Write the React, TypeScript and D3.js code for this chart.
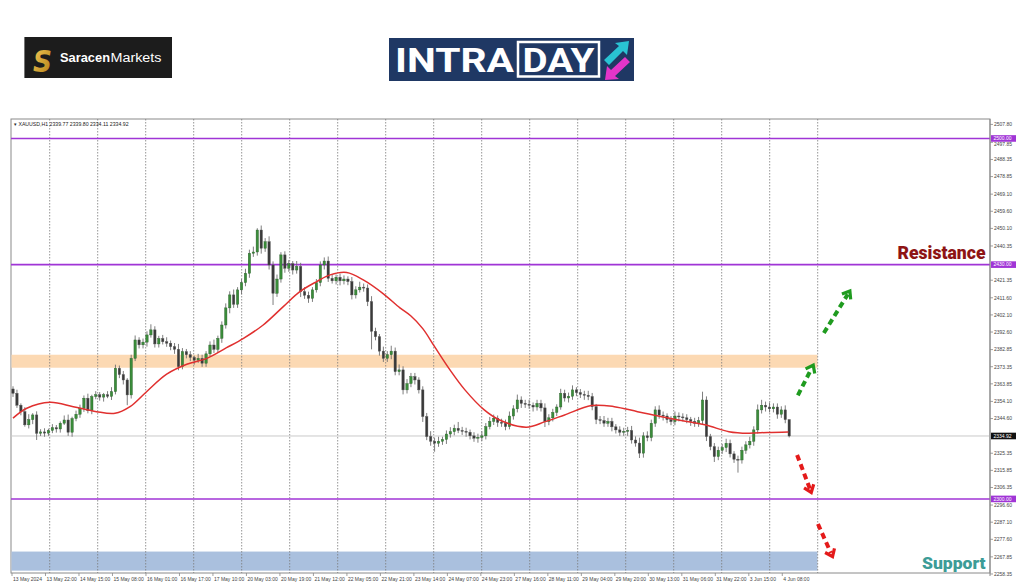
import React from 'react';
import * as d3 from 'd3';

// ---------- DATA (2-hour candles) ----------
const firstOpen = 2361.0;
const closes = [
  2358.6, 2352.0, 2348.4, 2341.1, 2344.0, 2346.6, 2336.4, 2337.2, 2336.5, 2338.0,
  2339.5, 2338.8, 2342.0, 2343.8, 2337.0, 2344.6, 2347.0, 2350.3, 2355.9, 2349.0,
  2356.8, 2357.8, 2356.5, 2357.8, 2356.9, 2359.5, 2372.5, 2369.0, 2366.0, 2357.7,
  2378.0, 2388.2, 2385.5, 2387.0, 2391.0, 2393.8, 2386.0, 2389.0, 2387.2, 2386.4,
  2384.5, 2383.0, 2373.4, 2381.7, 2380.0, 2378.5, 2377.0, 2378.0, 2375.3, 2380.5,
  2385.4, 2383.0, 2389.1, 2396.5, 2406.0, 2413.2, 2408.0, 2416.0, 2420.0, 2425.2,
  2436.3, 2437.0, 2449.2, 2439.1, 2442.7, 2429.8, 2414.1, 2422.0, 2435.4, 2428.0,
  2430.5, 2427.0, 2429.0, 2415.0, 2413.0, 2411.3, 2416.0, 2420.0, 2429.8, 2432.0,
  2422.4, 2421.0, 2423.0, 2421.0, 2422.0, 2420.6, 2413.2, 2416.0, 2417.5, 2417.0,
  2409.5, 2393.0, 2390.0, 2382.0, 2378.0, 2380.0, 2382.0, 2370.6, 2371.6, 2360.5,
  2364.0, 2367.9, 2366.0, 2360.5, 2345.7, 2334.6, 2332.0, 2330.9, 2332.0, 2333.0,
  2336.0, 2337.3, 2339.2, 2338.0, 2337.5, 2337.0, 2335.0, 2333.7, 2334.2, 2335.0,
  2340.1, 2343.0, 2344.8, 2342.5, 2342.0, 2340.1, 2346.0, 2350.0, 2354.9, 2353.0,
  2352.5, 2352.0, 2351.0, 2353.0, 2350.5, 2342.9, 2345.0, 2348.0, 2351.0, 2358.6,
  2356.0, 2357.0, 2360.5, 2359.0, 2358.0, 2357.5, 2356.8, 2351.2, 2344.0, 2343.5,
  2342.0, 2343.0, 2340.0, 2338.3, 2337.0, 2337.5, 2338.0, 2332.7, 2331.0, 2325.4,
  2335.0, 2334.0, 2342.0, 2349.4, 2346.5, 2346.0, 2344.0, 2342.9, 2346.0, 2345.5,
  2345.0, 2344.0, 2343.0, 2342.0, 2343.5, 2354.9, 2334.6, 2329.0, 2323.5, 2327.0,
  2328.5, 2330.9, 2325.0, 2322.0, 2321.6, 2327.0, 2330.0, 2332.0, 2338.3, 2349.4,
  2352.0, 2351.0, 2350.0, 2351.0, 2347.0, 2349.4, 2344.0, 2334.92,
];
const wickHi = [
  1.5, 2, 1, 2.5, 3, 1, 2, 1.5, 2, 1,
  2, 1.5, 1, 2.5, 3, 1, 2, 2, 1.5, 2.5,
  1, 2, 1.5, 1, 2, 2.5, 2, 1.5, 2, 1,
  2, 2.5, 1.5, 2, 2, 3.1, 2, 1.5, 2, 2.5,
  1.5, 2, 3, 2, 1.5, 2, 1, 2.5, 2, 1.5,
  2, 3, 1.5, 2, 2.5, 2, 3, 1.5, 2, 2.5,
  2, 3, 1, 2.5, 2, 3, 2, 2.5, 1.5, 2,
  2, 1.5, 3, 2, 2.5, 2, 1.5, 2, 2, 2,
  2.5, 2, 1.5, 2, 2, 1.5, 2.5, 2, 3, 2,
  2, 3, 2, 1.5, 2.5, 2, 3, 2, 3, 2,
  2.5, 2, 2, 1.5, 2, 2, 3, 2, 2.5, 1.5,
  2, 2.5, 2, 3.5, 2, 2, 1.5, 2, 2, 2.5,
  2, 2.5, 2, 1.5, 2, 2, 2.5, 2, 3, 2,
  2, 2.5, 1.5, 2, 2, 2.5, 2, 2, 1.5, 2.5,
  2, 2, 2.5, 1.5, 2, 2, 2.5, 2, 1.5, 2,
  2.5, 2, 2, 1.5, 2, 2, 2, 2.5, 2, 3,
  2, 2.5, 2, 2, 2.5, 2, 1.5, 2, 2.5, 2,
  2, 2, 1.5, 2, 2, 4.6, 2, 1.5, 2, 2,
  2, 2.5, 2, 1.5, 2, 2, 2, 2.5, 2, 3,
  3, 2, 2.5, 2, 2, 2, 2.5, 0.1,
];
const wickLo = [
  2, 1.5, 2, 1, 2, 2.5, 3.7, 1.5, 2, 1.5,
  1.5, 2, 2, 1, 2, 2.5, 1.5, 2, 2, 1.5,
  2, 1.5, 2, 2.5, 1, 2, 1.5, 2, 2.5, 5.7,
  2, 1.5, 2, 2, 2.5, 1.5, 2, 2, 1.5, 2,
  2, 2.5, 2, 1.5, 2, 2, 2.5, 1.5, 2, 2,
  1.5, 2, 2, 2.5, 2, 3, 2, 2, 2.5, 2,
  2.5, 2, 2, 3, 2, 2.5, 6.5, 2, 2, 2.5,
  2, 2.5, 2, 3, 2, 2.5, 2, 1.5, 2, 2.5,
  2, 1.5, 2, 2.5, 2, 2, 2.5, 2, 1.5, 2,
  2.5, 10, 2, 2.5, 2, 2, 2.5, 2, 2, 2.5,
  2, 2, 2.5, 2, 3, 2, 2.5, 4.7, 2, 2,
  2.5, 2, 2, 1.5, 2, 2.5, 2, 2, 2.5, 2,
  2, 1.5, 2, 2.5, 2, 2, 1.5, 2, 2, 2.5,
  2, 2, 2.5, 2, 2, 3, 2, 2, 2, 1.5,
  2, 2.5, 2, 2, 2, 2.5, 2, 2, 2.5, 2,
  2, 2, 2.5, 2, 2, 2, 2.5, 2, 2, 2.7,
  2.5, 2, 2, 2, 2, 2.5, 2, 2, 2, 2.5,
  2, 2, 2.5, 2, 2, 2, 2.5, 2, 3, 2,
  2, 2.5, 2, 2, 7, 2, 2, 2, 2.5, 2,
  2, 2.5, 2, 2, 2.5, 2, 2, 0.8,
];

// moving average (red line) read at bar positions
const maIdx = [0, 3.5, 9.4, 15.3, 21.2, 25.9, 29.7, 33.9, 39, 44.1, 49.2, 54.2, 58.5, 63.5, 68.6, 72.8, 77.1, 80.5, 84.7, 88.9, 94, 98.2, 101, 104, 107, 110.9, 114.7, 119.6, 123.5, 130.3, 135.1, 140, 146.8, 152.6, 158.5, 164.3, 171.1, 175.9, 181.7, 186.6, 191.5, 196.8];
const maVal = [2344.8, 2350.3, 2353.6, 2351.2, 2348.4, 2347.5, 2351.2, 2359.5, 2369.2, 2374.7, 2378.0, 2383.9, 2389.1, 2396.5, 2406.7, 2415.0, 2420.6, 2424.3, 2425.6, 2421.5, 2413.8, 2406.0, 2401.5, 2394.5, 2384.5, 2371.6, 2360.5, 2349.4, 2343.8, 2339.8, 2342.9, 2346.6, 2351.8, 2351.2, 2348.4, 2345.7, 2342.9, 2341.0, 2337.3, 2336.4, 2336.9, 2337.2];

const dateLabels = [
  '13 May 2024', '13 May 22:00', '14 May 15:00', '15 May 08:00', '16 May 01:00', '16 May 17:00',
  '17 May 10:00', '20 May 03:00', '20 May 19:00', '21 May 12:00', '22 May 05:00', '22 May 21:00',
  '23 May 14:00', '24 May 07:00', '24 May 23:00', '27 May 16:00', '28 May 11:00', '29 May 04:00',
  '29 May 20:00', '30 May 13:00', '31 May 06:00', '31 May 22:00', '3 Jun 15:00', '4 Jun 08:00',
];
const priceTicks = [
  2507.80, 2497.85, 2488.35, 2478.85, 2469.10, 2459.60, 2450.10, 2440.35, 2421.35, 2411.60,
  2402.10, 2392.60, 2382.85, 2373.35, 2363.85, 2354.10, 2344.60, 2325.35, 2315.85, 2306.35,
  2296.60, 2287.10, 2277.60, 2267.85, 2258.35,
];
const levelLines = [2500.0, 2430.0, 2300.0];
const lastPrice = 2334.92;
const orangeZone = [2372.8, 2380.0];
const blueZone = [2260.2, 2270.8];
// projected arrows [startIdx, startPrice, endIdx, endPrice]
const upArrows = [
  [199.2, 2357.5, 203.1, 2374.2],
  [205.8, 2392.1, 212.4, 2415.4],
];
const downArrows = [
  [199.0, 2324.4, 202.6, 2303.6],
  [204.3, 2286.1, 208.0, 2268.0],
];
const headerText = '\u25BE XAUUSD,H1  2339.77 2339.80 2334.11 2334.92';

// ---------- LAYOUT ----------
const W = 1024;
const H = 587;
const plot = { left: 11, right: 990, top: 119, bottom: 573 };
const zoneRight = 817;
const gridStart = 49.7;
const gridStep = 48.0;
const gridCount = 17;
const barsPerLabel = 8.5;
const PURPLE = '#a035d6';
const FONT = "'Liberation Sans', Arial, sans-serif";

const xScale = d3.scaleLinear().domain([0, closes.length - 1]).range([13, 789.2]);
const yScale = d3.scaleLinear().domain([2258.9, 2510.8]).range([plot.bottom, plot.top]);

function Arrow({ a, color }: { a: number[]; color: string }) {
  const x1 = xScale(a[0]), y1 = yScale(a[1]), x2 = xScale(a[2]), y2 = yScale(a[3]);
  const ang = Math.atan2(y2 - y1, x2 - x1);
  const len = 8.5;
  const spread = 0.65;
  const hx1 = x2 - len * Math.cos(ang - spread), hy1 = y2 - len * Math.sin(ang - spread);
  const hx2 = x2 - len * Math.cos(ang + spread), hy2 = y2 - len * Math.sin(ang + spread);
  const sx = x2 - 4 * Math.cos(ang), sy = y2 - 4 * Math.sin(ang);
  return (
    <g>
      <line x1={x1} y1={y1} x2={sx} y2={sy} stroke={color} strokeWidth={4} strokeDasharray="6 4" />
      <polyline points={`${hx1},${hy1} ${x2},${y2} ${hx2},${hy2}`} fill="none" stroke={color} strokeWidth={3.2} strokeLinejoin="miter" />
    </g>
  );
}

export default function App() {
  const x = xScale;
  const y = yScale;

  const candles = closes.map((c, i) => {
    const o = i === 0 ? firstOpen : closes[i - 1];
    const hi = Math.max(o, c) + wickHi[i];
    const lo = Math.min(o, c) - wickLo[i];
    return { i, o, c, hi, lo };
  });

  const maLine = d3
    .line<number>()
    .x((_, k) => x(maIdx[k]))
    .y((v) => y(v))
    .curve(d3.curveCatmullRom.alpha(0.5))(maVal) as string;

  const grid = d3.range(gridCount).map((k) => gridStart + k * gridStep);

  // push a tick label a little away from a level box that would cover it
  const labelY = (v: number) => {
    let ty = y(v) + 1.8;
    levelLines.forEach((lv) => {
      const d = y(v) - y(lv);
      if (d > 0 && d < 5.5) ty += 5.5 - d;
    });
    return ty;
  };

  return (
    <svg width={W} height={H} style={{ position: 'absolute', left: 0, top: 0, background: '#fff' }}>
      <defs>
        <linearGradient id="gold" x1="0" y1="0" x2="1" y2="1">
          <stop offset="0" stopColor="#f5cd5a" />
          <stop offset="1" stopColor="#b07a12" />
        </linearGradient>
      </defs>
      <rect x={0} y={0} width={W} height={H} fill="#fff" />

      {/* Saracen logo */}
      <rect x={24.4} y={37} width={147.6} height={41} fill="#1c1c1c" />
      <text x={33} y={71.5} fontFamily="'DejaVu Sans', sans-serif" fontSize={31} fontWeight="bold" fontStyle="italic" fill="url(#gold)" textLength={19} lengthAdjust="spacingAndGlyphs">S</text>
      <text x={60} y={62} fontFamily={FONT} fontSize={12.5} fontWeight="bold" fill="#fff" textLength={50} lengthAdjust="spacingAndGlyphs">Saracen</text>
      <text x={110.5} y={62} fontFamily={FONT} fontSize={12.5} fill="#fff" textLength={51} lengthAdjust="spacingAndGlyphs">Markets</text>

      {/* INTRADAY logo */}
      <rect x={389} y={38} width={245} height={43} fill="#1f3864" />
      <text x={395} y={72} fontFamily="Roboto, sans-serif" fontSize={33} fontWeight="bold" fill="#fff" textLength={119} lengthAdjust="spacingAndGlyphs">INTRA</text>
      <rect x={518} y={42} width={81} height={34.5} fill="none" stroke="#fff" strokeWidth={2.5} />
      <text x={522.5} y={72} fontFamily="Roboto, sans-serif" fontSize={33} fontWeight="bold" fill="#fff" textLength={72} lengthAdjust="spacingAndGlyphs">DAY</text>
      <polygon points="604,60 619,46 615,43 629,41 627,55 623,51 609,65" fill="#29c3d3" />
      <polygon points="630,62 615,76 619,79 605,80 607,66 611,70 625,57" fill="#e235c9" />

      {/* chart frame */}
      <rect x={plot.left} y={plot.top} width={plot.right - plot.left} height={plot.bottom - plot.top} fill="#fff" stroke="#8a8a8a" strokeWidth={1} />

      {/* zones */}
      <rect x={plot.left + 0.5} y={y(orangeZone[1])} width={zoneRight - plot.left} height={y(orangeZone[0]) - y(orangeZone[1])} fill="#fcd9b3" />
      <rect x={plot.left + 0.5} y={y(blueZone[1])} width={zoneRight - plot.left} height={y(blueZone[0]) - y(blueZone[1])} fill="#aac0de" />

      {/* vertical dashed grid */}
      {grid.map((gx, k) => (
        <line key={k} x1={gx} x2={gx} y1={plot.top} y2={plot.bottom} stroke="#7a7a7a" strokeWidth={0.8} strokeDasharray="1.5 1.5" />
      ))}

      {/* last price line */}
      <line x1={plot.left} x2={plot.right} y1={y(lastPrice)} y2={y(lastPrice)} stroke="#c9c9c9" strokeWidth={1} />

      {/* level lines */}
      {levelLines.map((v) => (
        <line key={v} x1={plot.left} x2={plot.right} y1={y(v)} y2={y(v)} stroke={PURPLE} strokeWidth={1.6} />
      ))}

      {/* candles */}
      {candles.map((d) => {
        const bull = d.c >= d.o;
        const top = y(Math.max(d.o, d.c));
        const bot = y(Math.min(d.o, d.c));
        return (
          <g key={d.i}>
            <line x1={x(d.i)} x2={x(d.i)} y1={y(d.hi)} y2={y(d.lo)} stroke="#6f6f6f" strokeWidth={0.9} />
            <rect x={x(d.i) - 1.2} y={top} width={2.4} height={Math.max(0.9, bot - top)} fill={bull ? '#3a8d3a' : '#3a3a3a'} stroke={bull ? '#2d5e2d' : '#555'} strokeWidth={0.4} />
          </g>
        );
      })}

      {/* moving average */}
      <path d={maLine} fill="none" stroke="#e0302f" strokeWidth={1.5} />

      {/* arrows */}
      {upArrows.map((a, k) => <Arrow key={'u' + k} a={a} color="#1f9b1f" />)}
      {downArrows.map((a, k) => <Arrow key={'d' + k} a={a} color="#e41a1a" />)}

      {/* header */}
      <text x={14} y={125.5} fontFamily={FONT} fontSize={5.2} fill="#222">{headerText}</text>

      {/* right axis */}
      <line x1={plot.right} x2={plot.right} y1={plot.top} y2={plot.bottom + 3} stroke="#8a8a8a" strokeWidth={1} />
      {priceTicks.map((v) => (
        <g key={v}>
          <line x1={plot.right} x2={plot.right + 3} y1={y(v)} y2={y(v)} stroke="#888" strokeWidth={0.8} />
          <text x={plot.right + 4} y={labelY(v)} fontFamily={FONT} fontSize={5} fill="#444">{v.toFixed(2)}</text>
        </g>
      ))}
      {levelLines.map((v) => (
        <g key={'b' + v}>
          <rect x={plot.right + 1} y={y(v) - 3.3} width={25} height={6.6} fill={PURPLE} />
          <text x={plot.right + 3.5} y={y(v) + 1.8} fontFamily={FONT} fontSize={5} fill="#fff">{v.toFixed(2)}</text>
        </g>
      ))}
      <rect x={plot.right + 1} y={y(lastPrice) - 3.3} width={25} height={6.6} fill="#111" />
      <text x={plot.right + 3.5} y={y(lastPrice) + 1.8} fontFamily={FONT} fontSize={5} fill="#fff">{lastPrice.toFixed(2)}</text>

      {/* bottom axis */}
      {dateLabels.map((t, k) => {
        const lx = x(k * barsPerLabel) - 1;
        return (
          <g key={t}>
            <line x1={lx} x2={lx} y1={plot.bottom} y2={plot.bottom + 3} stroke="#888" strokeWidth={0.8} />
            <text x={lx + 1} y={plot.bottom + 7.5} fontFamily={FONT} fontSize={5} fill="#444">{t}</text>
          </g>
        );
      })}

      {/* annotations */}
      <text x={897.5} y={258.5} fontFamily="Roboto, sans-serif" fontSize={18} fontWeight={900} fill="#8e1414" textLength={88} lengthAdjust="spacingAndGlyphs">Resistance</text>
      <text x={922} y={568.5} fontFamily="Roboto, sans-serif" fontSize={16.5} fontWeight={900} fill="#3c9c97" textLength={63.5} lengthAdjust="spacingAndGlyphs">Support</text>
    </svg>
  );
}
